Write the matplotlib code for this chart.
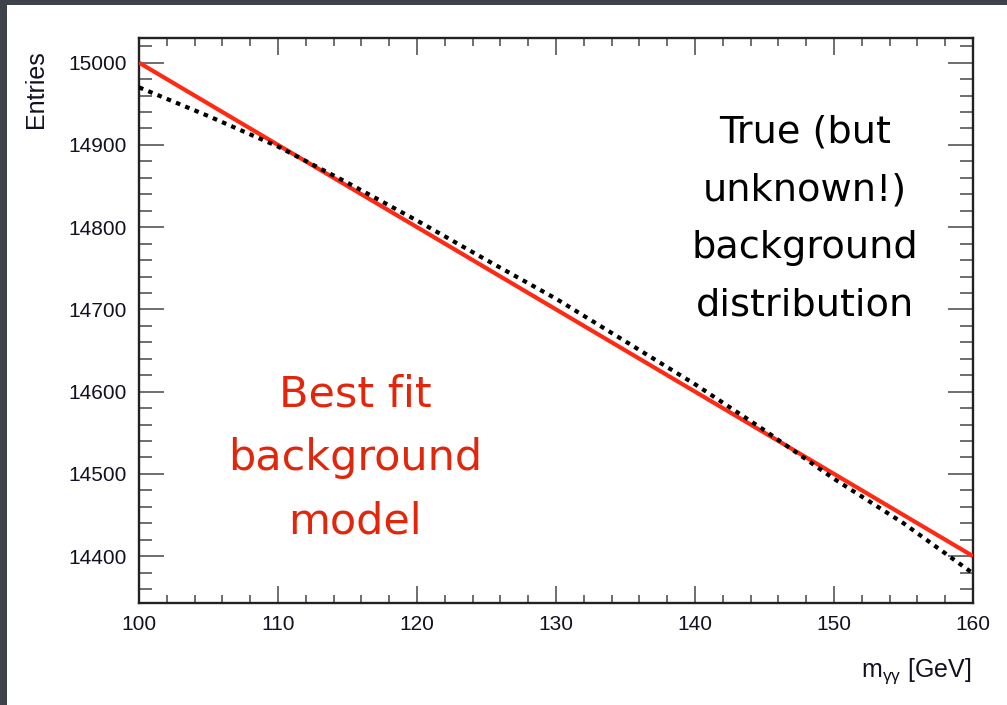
import numpy as np
import matplotlib.pyplot as plt
from matplotlib.ticker import MultipleLocator
from matplotlib.patches import Rectangle

plt.rcParams['font.family'] = ['Liberation Sans', 'DejaVu Sans']
plt.rcParams['mathtext.fontset'] = 'custom'
plt.rcParams['mathtext.rm'] = 'Liberation Sans'
plt.rcParams['mathtext.it'] = 'Liberation Sans'

# fitted (straight) background model
fit_mass = [100, 160]
fit_entries = [15000, 14400]

# true background shape
true_mass = [100, 105, 110, 115, 120, 125, 130, 135, 140, 145, 150, 155, 160]
true_entries = [14970, 14935, 14898, 14854, 14808, 14760, 14713,
                14661, 14609, 14553, 14494, 14440, 14379]

x_ticks = [100, 110, 120, 130, 140, 150, 160]
y_ticks = [14400, 14500, 14600, 14700, 14800, 14900, 15000]

fig = plt.figure(figsize=(10.07, 7.05), dpi=100, facecolor='#3e424b')
fig.patches.append(Rectangle((7/1007, 0), 1 - 7/1007, 700/705, transform=fig.transFigure,
                             facecolor='white', edgecolor='none', zorder=-10))

ax = fig.add_axes([139/1007, 102/705, 834/1007, 565/705])
ax.set_facecolor('white')

ax.plot(fit_mass, fit_entries, color='#ff2a14', lw=3.0, solid_capstyle='butt', zorder=3)
ax.plot(true_mass, true_entries, color='black', lw=3.0, linestyle=(0, (1.1, 1.3)), zorder=4)

ax.set_xlim(100, 160)
ax.set_ylim(14343, 15030)
ax.set_xticks(x_ticks)
ax.set_yticks(y_ticks)
ax.xaxis.set_minor_locator(MultipleLocator(2))
ax.yaxis.set_minor_locator(MultipleLocator(20))

ax.tick_params(axis='both', which='both', direction='in', top=True, right=True,
               colors='#555555', labelcolor='#111122', labelsize=15, width=1.2)
ax.tick_params(axis='y', which='major', length=18, pad=9)
ax.tick_params(axis='y', which='minor', length=9.5)
ax.tick_params(axis='x', which='major', length=12, pad=9)
ax.tick_params(axis='x', which='minor', length=6)
for s in ax.spines.values():
    s.set_linewidth(1.7)
    s.set_color('#222222')

fig.text(36/1007, 1 - 50/705, 'Entries', rotation=90, ha='center', va='top',
         fontsize=18, color='#111122')
fig.text(971/1007, 1 - 677/705, r'm$_{\gamma\gamma}$ [GeV]', ha='right', va='baseline',
         fontsize=18, color='#111122')

red_lines = ['Best fit', 'background', 'model']
red_base = [407, 470, 533]
for txt, yb in zip(red_lines, red_base):
    fig.text(355/1007, 1 - yb/705, txt, ha='center', va='baseline', fontsize=31,
             color='#e2260c', family='DejaVu Sans')

black_lines = ['True (but', 'unknown!)', 'background', 'distribution']
black_base = [142, 200, 258, 315]
for txt, yb in zip(black_lines, black_base):
    fig.text(805/1007, 1 - yb/705, txt, ha='center', va='baseline', fontsize=27.5,
             color='black', family='DejaVu Sans')

fig.savefig('out.png', dpi=100, facecolor=fig.get_facecolor())
